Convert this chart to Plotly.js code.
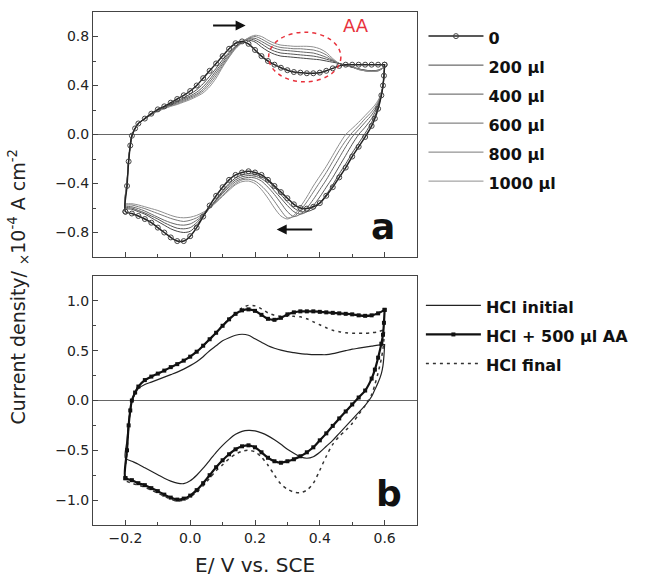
<!DOCTYPE html>
<html><head><meta charset="utf-8">
<script src="https://cdn.plot.ly/plotly-3.0.1.min.js"></script>
<style>html,body{margin:0;padding:0;background:#fff}#chart{width:649px;height:577px}</style>
</head><body><div id="chart"></div>
<script>
// Potential grids (V vs SCE)
const E_fwd = [-0.2,-0.195,-0.19,-0.185,-0.18,-0.17,-0.16,-0.14,-0.12,-0.1,-0.08,-0.06,-0.04,-0.02,0,0.02,0.04,0.06,0.08,0.1,0.12,0.14,0.16,0.18,0.2,0.22,0.24,0.26,0.28,0.3,0.32,0.34,0.36,0.38,0.4,0.42,0.44,0.46,0.48,0.5,0.52,0.54,0.56,0.58,0.6];
const E_rev = [0.6,0.598,0.595,0.59,0.58,0.57,0.56,0.54,0.52,0.5,0.48,0.46,0.44,0.42,0.4,0.38,0.36,0.34,0.32,0.3,0.28,0.26,0.24,0.22,0.2,0.18,0.16,0.14,0.12,0.1,0.08,0.06,0.04,0.02,0,-0.02,-0.04,-0.06,-0.08,-0.1,-0.12,-0.14,-0.16,-0.18,-0.2];

// Panel a: current density (x1e-4 A cm-2)
const a0_fwd = [-0.63,-0.42,-0.22,-0.09,-0.01,0.05,0.09,0.13,0.17,0.205,0.23,0.26,0.29,0.32,0.355,0.40,0.46,0.52,0.58,0.64,0.70,0.745,0.76,0.74,0.69,0.64,0.60,0.57,0.545,0.525,0.51,0.505,0.50,0.50,0.505,0.52,0.54,0.56,0.57,0.57,0.57,0.57,0.57,0.57,0.57];
const a0_rev = [0.57,0.48,0.40,0.32,0.21,0.13,0.07,-0.02,-0.10,-0.18,-0.27,-0.35,-0.43,-0.50,-0.56,-0.59,-0.605,-0.60,-0.57,-0.52,-0.47,-0.42,-0.37,-0.33,-0.31,-0.30,-0.31,-0.33,-0.37,-0.43,-0.50,-0.58,-0.67,-0.76,-0.83,-0.87,-0.87,-0.84,-0.80,-0.76,-0.72,-0.69,-0.665,-0.645,-0.63];
const a200_fwd = [-0.60,-0.41,-0.21,-0.09,-0.01,0.05,0.09,0.13,0.168,0.20,0.225,0.25,0.275,0.30,0.33,0.365,0.415,0.475,0.54,0.61,0.67,0.72,0.755,0.77,0.755,0.715,0.68,0.655,0.64,0.635,0.63,0.625,0.62,0.615,0.61,0.60,0.59,0.58,0.565,0.55,0.535,0.525,0.52,0.525,0.55];
const a200_rev = [0.55,0.48,0.40,0.32,0.22,0.15,0.10,0.01,-0.07,-0.15,-0.24,-0.32,-0.41,-0.49,-0.56,-0.61,-0.63,-0.63,-0.60,-0.55,-0.49,-0.43,-0.38,-0.345,-0.325,-0.32,-0.33,-0.355,-0.40,-0.46,-0.53,-0.60,-0.67,-0.74,-0.79,-0.80,-0.79,-0.77,-0.74,-0.71,-0.68,-0.65,-0.63,-0.61,-0.60];
const a400_fwd = [-0.59,-0.40,-0.21,-0.09,-0.01,0.05,0.09,0.13,0.166,0.198,0.22,0.245,0.265,0.29,0.315,0.345,0.39,0.45,0.52,0.59,0.66,0.715,0.76,0.78,0.77,0.74,0.705,0.68,0.665,0.66,0.655,0.65,0.645,0.64,0.63,0.615,0.60,0.58,0.565,0.55,0.535,0.525,0.52,0.525,0.55];
const a400_rev = [0.55,0.475,0.40,0.325,0.24,0.18,0.13,0.06,0.0,-0.08,-0.17,-0.26,-0.35,-0.43,-0.51,-0.58,-0.63,-0.65,-0.63,-0.58,-0.52,-0.46,-0.40,-0.36,-0.34,-0.335,-0.345,-0.37,-0.415,-0.47,-0.535,-0.60,-0.66,-0.72,-0.76,-0.77,-0.765,-0.745,-0.72,-0.69,-0.665,-0.64,-0.62,-0.60,-0.59];
const a600_fwd = [-0.58,-0.40,-0.21,-0.09,-0.01,0.05,0.09,0.128,0.164,0.195,0.215,0.24,0.258,0.28,0.305,0.33,0.37,0.43,0.50,0.575,0.645,0.71,0.755,0.785,0.785,0.76,0.73,0.705,0.69,0.685,0.68,0.675,0.67,0.665,0.65,0.63,0.605,0.58,0.565,0.55,0.535,0.52,0.515,0.52,0.55];
const a600_rev = [0.55,0.475,0.40,0.33,0.255,0.20,0.16,0.10,0.04,-0.02,-0.10,-0.19,-0.28,-0.37,-0.45,-0.53,-0.60,-0.65,-0.67,-0.63,-0.56,-0.49,-0.43,-0.38,-0.355,-0.35,-0.36,-0.385,-0.43,-0.48,-0.54,-0.60,-0.655,-0.70,-0.73,-0.74,-0.735,-0.72,-0.70,-0.675,-0.65,-0.625,-0.605,-0.59,-0.58];
const a800_fwd = [-0.57,-0.39,-0.20,-0.09,-0.01,0.05,0.09,0.128,0.162,0.192,0.212,0.235,0.25,0.272,0.295,0.32,0.355,0.41,0.48,0.56,0.635,0.705,0.75,0.785,0.80,0.78,0.75,0.725,0.71,0.705,0.70,0.70,0.695,0.69,0.675,0.65,0.61,0.58,0.565,0.55,0.53,0.52,0.515,0.52,0.55];
const a800_rev = [0.55,0.47,0.40,0.335,0.265,0.22,0.185,0.13,0.07,0.015,-0.05,-0.13,-0.22,-0.31,-0.39,-0.47,-0.55,-0.62,-0.67,-0.68,-0.62,-0.545,-0.475,-0.42,-0.38,-0.365,-0.37,-0.40,-0.445,-0.495,-0.55,-0.60,-0.645,-0.68,-0.70,-0.71,-0.70,-0.685,-0.665,-0.645,-0.625,-0.605,-0.59,-0.575,-0.57];
const a1000_fwd = [-0.56,-0.39,-0.20,-0.09,-0.01,0.05,0.09,0.127,0.16,0.19,0.21,0.23,0.245,0.265,0.285,0.31,0.34,0.39,0.46,0.55,0.63,0.70,0.75,0.79,0.81,0.80,0.77,0.745,0.73,0.725,0.72,0.72,0.72,0.715,0.70,0.67,0.62,0.58,0.56,0.55,0.53,0.52,0.515,0.52,0.55];
const a1000_rev = [0.55,0.47,0.40,0.34,0.28,0.24,0.21,0.155,0.10,0.05,0.0,-0.08,-0.17,-0.26,-0.34,-0.42,-0.51,-0.59,-0.66,-0.69,-0.665,-0.60,-0.52,-0.45,-0.40,-0.38,-0.385,-0.41,-0.455,-0.505,-0.555,-0.60,-0.635,-0.66,-0.675,-0.68,-0.675,-0.66,-0.64,-0.62,-0.605,-0.59,-0.575,-0.565,-0.56];

// Panel b
const bInit_fwd = [-0.58,-0.40,-0.22,-0.10,-0.01,0.07,0.12,0.16,0.185,0.21,0.235,0.26,0.285,0.315,0.35,0.39,0.44,0.50,0.55,0.60,0.63,0.655,0.665,0.655,0.62,0.585,0.55,0.525,0.505,0.49,0.48,0.47,0.465,0.46,0.46,0.46,0.47,0.485,0.50,0.515,0.525,0.535,0.545,0.555,0.56];
const bInit_rev = [0.56,0.45,0.35,0.27,0.18,0.11,0.04,-0.05,-0.12,-0.19,-0.26,-0.33,-0.40,-0.46,-0.52,-0.565,-0.58,-0.565,-0.53,-0.49,-0.44,-0.395,-0.355,-0.325,-0.305,-0.30,-0.31,-0.34,-0.39,-0.45,-0.52,-0.60,-0.68,-0.75,-0.805,-0.835,-0.83,-0.81,-0.78,-0.745,-0.71,-0.675,-0.64,-0.61,-0.58];
const bAA_fwd = [-0.78,-0.50,-0.25,-0.10,0.0,0.08,0.14,0.205,0.24,0.27,0.30,0.335,0.365,0.40,0.44,0.49,0.55,0.615,0.68,0.75,0.815,0.87,0.905,0.915,0.90,0.86,0.82,0.81,0.83,0.865,0.885,0.895,0.895,0.895,0.89,0.885,0.88,0.875,0.87,0.865,0.855,0.85,0.855,0.875,0.91];
const bAA_rev = [0.91,0.78,0.66,0.57,0.43,0.31,0.22,0.10,0.03,-0.04,-0.11,-0.18,-0.255,-0.33,-0.40,-0.47,-0.52,-0.56,-0.59,-0.61,-0.625,-0.61,-0.575,-0.52,-0.47,-0.45,-0.46,-0.49,-0.54,-0.60,-0.67,-0.75,-0.83,-0.90,-0.955,-0.985,-0.995,-0.975,-0.945,-0.91,-0.88,-0.85,-0.83,-0.80,-0.78];
const bFin_fwd = [-0.80,-0.52,-0.26,-0.10,0.0,0.08,0.14,0.205,0.24,0.27,0.30,0.335,0.365,0.40,0.44,0.49,0.55,0.615,0.68,0.75,0.82,0.88,0.93,0.955,0.95,0.92,0.88,0.855,0.845,0.845,0.845,0.84,0.82,0.79,0.76,0.73,0.705,0.69,0.68,0.675,0.675,0.675,0.68,0.69,0.71];
const bFin_rev = [0.71,0.62,0.52,0.42,0.28,0.16,0.06,-0.05,-0.14,-0.23,-0.30,-0.36,-0.44,-0.56,-0.70,-0.83,-0.90,-0.925,-0.92,-0.89,-0.84,-0.75,-0.65,-0.57,-0.515,-0.50,-0.51,-0.54,-0.585,-0.645,-0.705,-0.78,-0.855,-0.92,-0.97,-1.0,-1.01,-0.99,-0.96,-0.93,-0.90,-0.87,-0.85,-0.83,-0.80];

const namesA = ['0','200 µl','400 µl','600 µl','800 µl','1000 µl'];
const namesB = ['HCl initial','HCl + 500 µl AA','HCl final'];

const E = E_fwd.concat(E_rev);
const FF = 'DejaVu Sans, Arial, sans-serif';
const lg = t => '<span style="font-size:16px"><b>' + t + '</b></span>';

const thinSets = [[a200_fwd,a200_rev,'#474747'],[a400_fwd,a400_rev,'#575757'],[a600_fwd,a600_rev,'#676767'],[a800_fwd,a800_rev,'#7a7a7a'],[a1000_fwd,a1000_rev,'#8f8f8f']];
const data = [];
thinSets.forEach((s,i)=>{
  data.push({x:E, y:s[0].concat(s[1]), xaxis:'x', yaxis:'y', mode:'lines', name:lg(namesA[i+1]), legend:'legend', legendrank:i+2,
    line:{color:s[2], width:1, shape:'spline', smoothing:0.8}});
});
data.push({x:E, y:a0_fwd.concat(a0_rev), xaxis:'x', yaxis:'y', mode:'lines+markers', name:lg(namesA[0]), legend:'legend', legendrank:1,
  line:{color:'#222', width:1.5, shape:'spline', smoothing:0.8},
  marker:{symbol:'circle-open', size:5, color:'#444', line:{width:1, color:'#444'}}});

data.push({x:E, y:bInit_fwd.concat(bInit_rev), xaxis:'x2', yaxis:'y2', mode:'lines', name:lg(namesB[0]), legend:'legend2', legendrank:1,
  line:{color:'#222', width:1.2, shape:'spline', smoothing:0.8}});
data.push({x:E, y:bFin_fwd.concat(bFin_rev), xaxis:'x2', yaxis:'y2', mode:'lines', name:lg(namesB[2]), legend:'legend2', legendrank:3,
  line:{color:'#333', width:1.5, dash:'3px,4px', shape:'spline', smoothing:0.8}});
data.push({x:E, y:bAA_fwd.concat(bAA_rev), xaxis:'x2', yaxis:'y2', mode:'lines+markers', name:lg(namesB[1]), legend:'legend2', legendrank:2,
  line:{color:'#111', width:2.2, shape:'spline', smoothing:0.8},
  marker:{symbol:'square', size:4, color:'#111'}});

const ax = {showline:true, linecolor:'#444', linewidth:1, mirror:true, ticks:'inside', ticklen:5, tickwidth:1, tickcolor:'#444',
  showgrid:false, zeroline:false, tickfont:{family:FF, size:14, color:'#222'}};
const layout = {
  width:649, height:577, margin:{l:93, r:232, t:12, b:52}, paper_bgcolor:'#fff', plot_bgcolor:'#fff',
  font:{family:FF, color:'#222'},
  xaxis:Object.assign({}, ax, {domain:[0,1], anchor:'y', range:[-0.3,0.7], tick0:0, dtick:0.2, showticklabels:false,
    minor:{ticks:'inside', ticklen:3, dtick:0.1, tickcolor:'#444'}}),
  yaxis:Object.assign({}, ax, {domain:[0.5224,1], anchor:'x', range:[-1,1], tick0:0, dtick:0.4, tickformat:'.1f',
    zeroline:true, zerolinecolor:'#666', zerolinewidth:1, minor:{ticks:'inside', ticklen:3, dtick:0.2, tickcolor:'#444'}}),
  xaxis2:Object.assign({}, ax, {domain:[0,1], anchor:'y2', range:[-0.3,0.7], tick0:0, dtick:0.2, tickformat:'.1f',
    minor:{ticks:'inside', ticklen:3, dtick:0.1, tickcolor:'#444'}}),
  yaxis2:Object.assign({}, ax, {domain:[0,0.4854], anchor:'x2', range:[-1.25,1.25], tick0:0, dtick:0.5, tickformat:'.1f',
    zeroline:true, zerolinecolor:'#666', zerolinewidth:1, minor:{ticks:'inside', ticklen:3, dtick:0.25, tickcolor:'#444'}}),
  legend:{x:1.02, xanchor:'left', y:0.991, yanchor:'top', bgcolor:'rgba(0,0,0,0)', font:{family:FF, size:20, color:'#111'}, itemwidth:55, tracegroupgap:0},
  legend2:{x:1.012, xanchor:'left', y:0.466, yanchor:'top', bgcolor:'rgba(0,0,0,0)', font:{family:FF, size:20, color:'#111'}, itemwidth:55, tracegroupgap:0},
  shapes:[{type:'circle', xref:'x', yref:'y', x0:0.242, x1:0.465, y0:0.43, y1:0.835, line:{color:'#e8323c', width:1.5, dash:'4px,4px'}}],
  annotations:[
    {x:0.171, y:0.89, ax:0.066, ay:0.89, xref:'x', yref:'y', axref:'x', ayref:'y', text:'', showarrow:true, arrowhead:2, arrowsize:1, arrowwidth:2, arrowcolor:'#111'},
    {x:0.267, y:-0.775, ax:0.381, ay:-0.775, xref:'x', yref:'y', axref:'x', ayref:'y', text:'', showarrow:true, arrowhead:2, arrowsize:1, arrowwidth:2, arrowcolor:'#111'},
    {x:0.511, y:0.89, xref:'x', yref:'y', text:'AA', showarrow:false, font:{family:FF, size:18, color:'#e8323c'}},
    {x:0.594, y:-0.937, xref:'x', yref:'y', xanchor:'center', yanchor:'bottom', text:'<b>a</b>', showarrow:false, font:{family:FF, size:36, color:'#111'}},
    {x:0.613, y:-1.157, xref:'x2', yref:'y2', xanchor:'center', yanchor:'bottom', text:'<b>b</b>', showarrow:false, font:{family:FF, size:36, color:'#111'}},
    {x:0.5, y:-0.078, xref:'paper', yref:'paper', xanchor:'center', yanchor:'middle', text:'E/ V vs. SCE', showarrow:false, font:{family:FF, size:20, color:'#222'}},
    {x:-0.2315, y:0.465, xref:'paper', yref:'paper', xanchor:'center', yanchor:'middle', textangle:-90,
      text:'Current density/ <sub>×</sub>10<sup>-4</sup> A cm<sup>-2</sup>', showarrow:false, font:{family:FF, size:19, color:'#222'}}
  ]
};
Plotly.newPlot('chart', data, layout, {displayModeBar:false, staticPlot:true});
</script></body></html>
